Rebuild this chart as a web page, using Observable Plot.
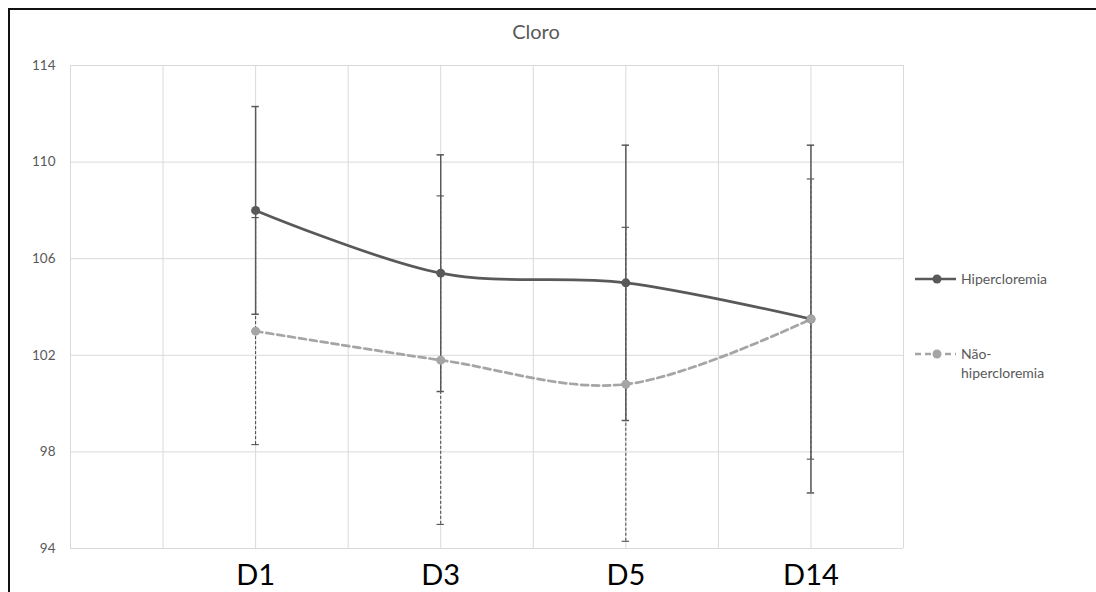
<!DOCTYPE html>
<html>
<head>
<meta charset="utf-8">
<script src="https://cdn.jsdelivr.net/npm/d3@7"></script>
<script src="https://cdn.jsdelivr.net/npm/@observablehq/plot@0.6"></script>
<style>
  html, body { margin: 0; padding: 0; background: #fff; overflow: hidden; }
  #wrap { position: relative; width: 1096px; height: 592px; overflow: hidden; font-family: Lato, "Open Sans", sans-serif; }
  #bTop { position: absolute; left: 8px; top: 8px; width: 1088px; height: 2px; background: #111; }
  #bLeft { position: absolute; left: 8px; top: 8px; width: 2px; height: 584px; background: #111; }
  #title { position: absolute; left: 0; width: 1096px; top: 19px; text-align: center; font-size: 20px; color: #595959; }
  #title span { position: relative; left: -12px; }
  .leg { position: absolute; left: 914px; font-size: 14px; color: #595959; line-height: 19px; }
  .leg svg { position: absolute; left: 0; top: 0; }
  .leg .txt { position: absolute; left: 47px; white-space: nowrap; }
  #chart { position: absolute; left: 0; top: 0; }
</style>
</head>
<body>
<div id="wrap">
  <div id="chart"></div>
  <div id="bTop"></div>
  <div id="bLeft"></div>
  <div id="title"><span>Cloro</span></div>
  <div class="leg" id="leg1" style="top:269px;">
    <svg width="44" height="19"><line x1="1" x2="42" y1="10" y2="10" stroke="#595959" stroke-width="2.5"/><circle cx="23" cy="10" r="4.5" fill="#595959"/></svg>
    <div class="txt" style="top:0px;">Hipercloremia</div>
  </div>
  <div class="leg" id="leg2" style="top:344px;">
    <svg width="44" height="19"><line x1="1" x2="42" y1="10" y2="10" stroke="#A5A5A5" stroke-width="2.5" stroke-dasharray="6,4"/><circle cx="23" cy="10" r="4.5" fill="#A5A5A5"/></svg>
    <div class="txt" style="top:0px;">Não-<br>hipercloremia</div>
  </div>
</div>
<script>
// ---- data ----
const categories = ["D1", "D3", "D5", "D14"];
const hiperMean = [108.0, 105.4, 105.0, 103.5];
const hiperSD   = [4.3, 4.9, 5.7, 7.2];
const naoMean   = [103.0, 101.8, 100.8, 103.5];
const naoSD     = [4.7, 6.8, 6.5, 5.8];
const yTicks    = [94, 98, 102, 106, 110, 114];
const seriesNames = ["Hipercloremia", "Não-hipercloremia"];

// ---- build table ----
const slot = i => 2 * (i + 1); // categories sit on every second grid slot
const rows = [];
categories.forEach((c, i) => {
  rows.push({cat: c, x: slot(i), s: seriesNames[0], m: hiperMean[i], sd: hiperSD[i]});
  rows.push({cat: c, x: slot(i), s: seriesNames[1], m: naoMean[i], sd: naoSD[i]});
});
const hiper = rows.filter(d => d.s === seriesNames[0]);
const nao = rows.filter(d => d.s === seriesNames[1]);
const capW = 0.04;

function caps(data) {
  const out = [];
  data.forEach(d => {
    out.push({x1: d.x - capW, x2: d.x + capW, y: d.m + d.sd});
    out.push({x1: d.x - capW, x2: d.x + capW, y: d.m - d.sd});
  });
  return out;
}

const chart = Plot.plot({
  width: 1096,
  height: 592,
  marginLeft: 70,
  marginRight: 193,
  marginTop: 65,
  marginBottom: 44,
  style: {fontFamily: "Lato, 'Open Sans', sans-serif", background: "transparent", overflow: "visible"},
  x: {domain: [0, 9], axis: null},
  y: {domain: [94, 114], axis: null},
  marks: [
    Plot.gridX(d3.range(0, 10), {stroke: "#d9d9d9", strokeOpacity: 1, strokeWidth: 1}),
    Plot.gridY(yTicks, {stroke: "#d9d9d9", strokeOpacity: 1, strokeWidth: 1}),
    Plot.axisY(yTicks, {tickSize: 0, tickPadding: 15, fontSize: 13.5, fill: "#595959"}),
    Plot.axisX(categories.map((c, i) => slot(i)), {
      tickSize: 0, tickPadding: 16, fontSize: 29, fill: "#000",
      tickFormat: d => categories[d / 2 - 1]
    }),
    // non-hiper error bars (dashed)
    Plot.ruleX(nao, {x: "x", y1: d => d.m - d.sd, y2: d => d.m + d.sd, stroke: "#404040", strokeWidth: 1, strokeDasharray: "3,2"}),
    Plot.ruleY(caps(nao), {x1: "x1", x2: "x2", y: "y", stroke: "#404040", strokeWidth: 1}),
    // hiper error bars (solid)
    Plot.ruleX(hiper, {x: "x", y1: d => d.m - d.sd, y2: d => d.m + d.sd, stroke: "#595959", strokeWidth: 1.5}),
    Plot.ruleY(caps(hiper), {x1: "x1", x2: "x2", y: "y", stroke: "#595959", strokeWidth: 1.5}),
    // lines
    Plot.line(hiper, {x: "x", y: "m", stroke: "#595959", strokeWidth: 2.75, curve: "cardinal"}),
    Plot.line(nao, {x: "x", y: "m", stroke: "#A5A5A5", strokeWidth: 2.75, strokeDasharray: "7,4", curve: "cardinal"}),
    Plot.dot(hiper, {x: "x", y: "m", r: 4.5, fill: "#595959"}),
    Plot.dot(nao, {x: "x", y: "m", r: 4.5, fill: "#A5A5A5"})
  ]
});
document.getElementById("chart").appendChild(chart);
</script>
</body>
</html>
